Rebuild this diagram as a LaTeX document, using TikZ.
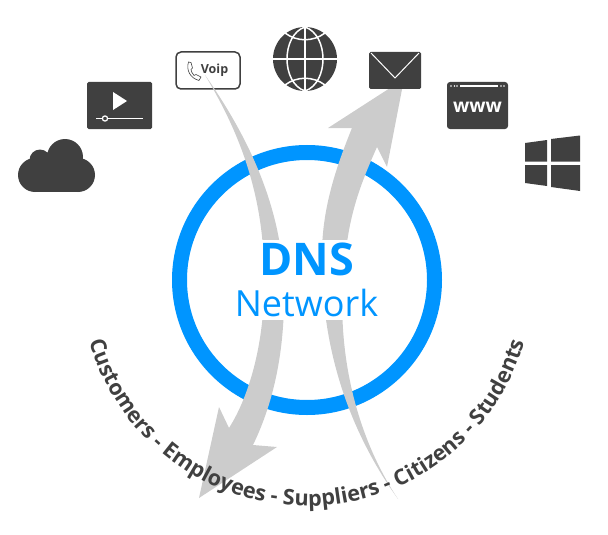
\documentclass[tikz,border=0pt]{standalone}
\usepackage{fontspec}
\setmainfont{Open Sans}
\usepackage{tikz}
\usetikzlibrary{positioning, decorations.text}

\definecolor{icongray}{HTML}{404040}
\definecolor{arrowgray}{HTML}{CCCCCC}
\definecolor{dnsblue}{HTML}{0095FF}
\newcommand{\userfont}{\fontsize{21.6}{26}\selectfont\bfseries}

\begin{document}
\begin{tikzpicture}[
        x=1pt, y=-1pt,
        ring/.style={draw=dnsblue, line width=15pt},
        arrowfill/.style={fill=arrowgray},
        icon/.style={fill=icongray, rounded corners=1.5pt},
        cut/.style={draw=white, line width=1.5pt},
        title/.style={text=dnsblue, inner sep=0pt}
    ]
    \useasboundingbox (0,0) rectangle (608,535);

    % Ring
    \draw[ring] (307,280) circle[radius=127.5pt];

    % Voip box
    \draw[icongray, line width=1.5pt, fill=white, rounded corners=5pt] (176,52) rectangle (240,89);
    \node[font=\fontsize{12.5}{15}\selectfont\bfseries, text=icongray, inner sep=0pt] (voip) at (214.5,70) {Voip};
    \draw[icongray, line width=0.6pt, fill=white, line join=round] (188.5,62)
        .. controls (186,70) and (190,78) .. (199,80.5) -- (201,77) -- (196,74.5) -- (194,75.5)
        .. controls (192,73) and (191,71) .. (191,69.5) -- (192.5,68) -- (191,62.5) -- cycle;

    % Arrow from Voip down to the users
    \fill[arrowfill] (205,75) .. controls (235,125) and (265,190) .. (264,280)
        .. controls (265,340) and (250,395) .. (229,428)
        -- (219,407) -- (199,498) -- (277,447) -- (253,445)
        .. controls (270,410) and (285,360) .. (284,290)
        .. controls (283,200) and (240,125) .. (205,75) -- cycle;

    % Arrow from the users up to Mail
    \fill[arrowfill] (398,499) .. controls (345,425) and (320,340) .. (322,250)
        .. controls (323,205) and (337,165) .. (352,128)
        -- (328,128) -- (404,79) -- (387,167) -- (377,147)
        .. controls (360,185) and (349,215) .. (345,260)
        .. controls (335,340) and (352,430) .. (398,499) -- cycle;

    % White band behind the title
    \fill[white] (235,240) rectangle (378,320);
    \node[title, font=\fontsize{45}{50}\selectfont\bfseries] (dns) at (307,259) {DNS};
    \node[title, font=\fontsize{36}{40}\selectfont] (network) at (306.5,303) {Network};

    % Users along the arc
    \path[decorate, decoration={text along path, text color=icongray, text align=center,
        text={|\userfont|Customers - Employees - Suppliers - Citizens - Students}}]
        plot[domain=170:10, samples=80] ({307+226*cos(\x)},{280+226*sin(\x)});

    % Cloud
    \fill[icongray] (35,175) circle[radius=17pt] (78,175) circle[radius=17pt]
        (65,157) circle[radius=18pt] (40,160) circle[radius=10.5pt];
    \fill[icongray] (35,160) rectangle (78,192);

    % Video
    \fill[icon] (87,82) rectangle (152,129);
    \fill[white] (113,92) -- (113,110) -- (127,101) -- cycle;
    \draw[white, line width=1.8pt] (96,118.5) -- (143,118.5);
    \draw[white, line width=1.2pt, fill=icongray] (105,118.5) circle[radius=2.6pt];

    % Globe
    \fill[icongray] (305,59) circle[radius=32pt];
    \draw[cut] (273,59) -- (337,59) (305,27) -- (305,91);
    \draw[cut] (305,27) .. controls (281,35) and (281,83) .. (305,91)
        .. controls (329,83) and (329,35) .. (305,27);
    \draw[cut] (285,33) .. controls (297,42) and (313,42) .. (325,33);
    \draw[cut] (285,85) .. controls (297,76) and (313,76) .. (325,85);

    % Mail
    \fill[icon] (369,52) rectangle (421,89);
    \draw[white, line width=1pt] (371,53) -- (395,78) -- (419,53);

    % Browser
    \fill[icon, rounded corners=3pt] (447,82) rectangle (508,129);
    \draw[white, line width=1.6pt] (460,86) -- (498,86);
    \foreach \dotx in {451,454.5,457,501,504} {
        \fill[white] (\dotx,86) circle[radius=0.9pt];
    }
    \node[text=white, font=\fontsize{19}{24}\selectfont\bfseries, inner sep=0pt] (www) at (477.5,107.5) {www};

    % Windows
    \fill[icongray] (525,143) -- (547,140) -- (547,161.5) -- (525,161.5) -- cycle;
    \fill[icongray] (551,139) -- (580,135.5) -- (580,161.5) -- (551,161.5) -- cycle;
    \fill[icongray] (525,165) -- (547,165) -- (547,186) -- (525,183) -- cycle;
    \fill[icongray] (551,165) -- (580,165) -- (580,191) -- (551,187) -- cycle;

\end{tikzpicture}
\end{document}
